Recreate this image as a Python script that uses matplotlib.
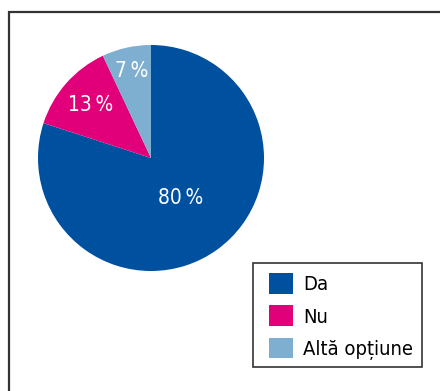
import numpy as np
import matplotlib
matplotlib.use("Agg")
import matplotlib.pyplot as plt
from matplotlib.patches import Rectangle, Patch

# Survey answers and their shares (percent)
categories = ["Da", "Nu", "Altă opțiune"]
shares = [80, 13, 7]
colors = ["#0050a0", "#e2007a", "#7fafd0"]
# radial position of each percentage label, as a fraction of the radius
label_radius = [0.44, 0.71, 0.79]

plt.rcParams["font.family"] = ["DejaVu Sans"]
plt.rcParams["font.stretch"] = "condensed"
FS = 15

fig = plt.figure(figsize=(4.40, 3.91), dpi=100)
W, H = 440, 391

# outer frame that runs off the right and bottom edges
fig.patches.append(Rectangle((9 / W, -0.05), 1.1, 1 - 12 / H + 0.05,
                             transform=fig.transFigure, fill=False,
                             edgecolor="#333333", linewidth=1.6))

# pie centre ~ (151, 158) px, radius ~ 113 px
r = 113
ax = fig.add_axes([(151 - r) / W, 1 - (158 + r) / H, 2 * r / W, 2 * r / H])
wedges, _ = ax.pie(shares, colors=colors, startangle=90, counterclock=False,
                   radius=1.0, wedgeprops=dict(linewidth=0))
ax.set_xlim(-1, 1)
ax.set_ylim(-1, 1)
ax.set_aspect("equal")
ax.axis("off")

for w, val, rr in zip(wedges, shares, label_radius):
    mid = np.deg2rad((w.theta1 + w.theta2) / 2)
    ax.text(rr * np.cos(mid), rr * np.sin(mid), f"{val}\u2009%", color="white",
            fontsize=FS, ha="center", va="center", stretch="condensed")

# legend box
fig.patches.append(Rectangle((253 / W, 1 - 367 / H), 169 / W, 104 / H,
                             transform=fig.transFigure, fill=False,
                             edgecolor="#333333", linewidth=1.2))

handles = [Patch(facecolor=c, edgecolor="none") for c in colors]
leg = fig.legend(handles, categories, loc="upper left",
                 bbox_to_anchor=(269 / W, 1 - 273 / H),
                 prop=dict(size=14.5, stretch="condensed"),
                 frameon=False, handlelength=1.2, handleheight=1.2,
                 handletextpad=0.5, labelspacing=0.56,
                 borderpad=0, borderaxespad=0)

fig.savefig("out.png", dpi=100)
